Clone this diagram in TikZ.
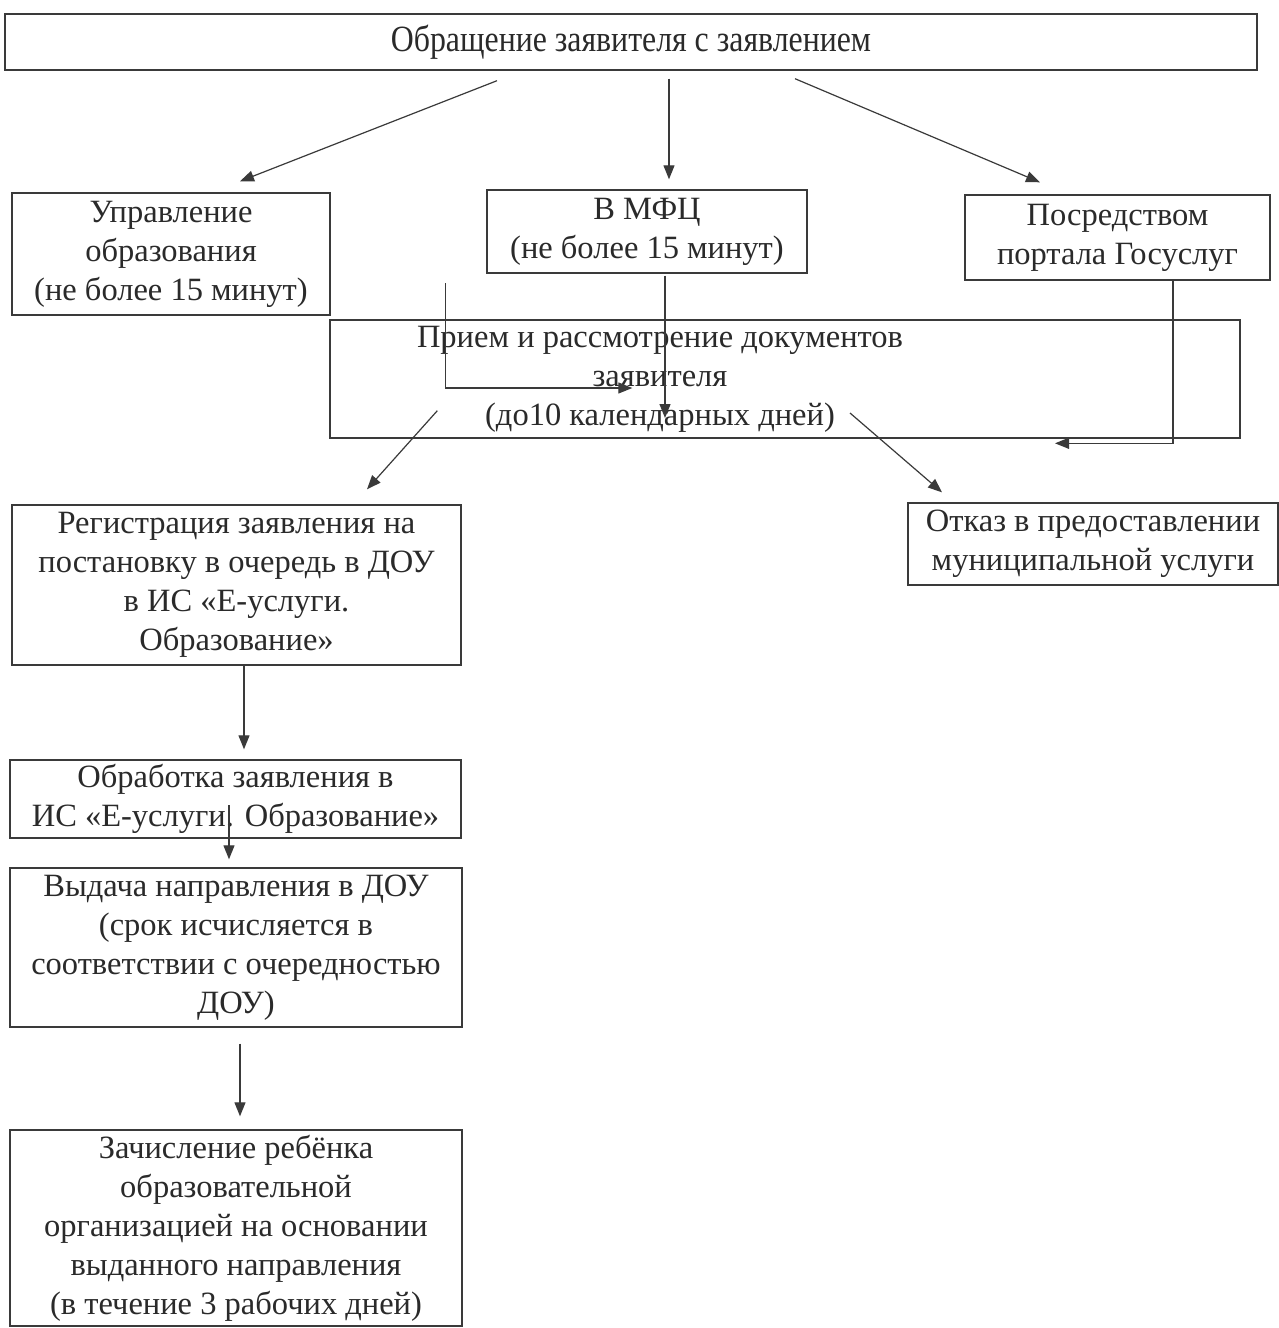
\documentclass[tikz,border=0pt]{standalone}
\usepackage{fontspec}
\setmainfont{Liberation Serif}
\newfontfamily\narrowserif[FakeStretch=0.86]{Liberation Serif}
\usetikzlibrary{arrows.meta,calc}
\definecolor{ink}{HTML}{3A3A3A}
\definecolor{txt}{HTML}{2A2A2A}
\begin{document}
\begin{tikzpicture}[x=1pt,y=-1pt,
  box/.style={draw=ink,line width=1.4pt,rectangle,inner sep=0pt,align=center,
    text=txt,font=\fontsize{32.5}{39}\selectfont},
  conn/.style={draw=ink,line width=1.2pt,-{Triangle[length=14pt,width=11pt]}}]
\useasboundingbox (0,0) rectangle (1279,1328);
\fill[white] (0,0) rectangle (1279,1328);

\node[box,minimum width=1252,minimum height=56,font=\narrowserif\fontsize{37}{40}\selectfont] (top) at (631,42) {Обращение заявителя с заявлением};
\node[box,minimum width=318,minimum height=122] (upr) at (171,254) {Управление\\образования\\(не более 15 минут)};
\node[box,minimum width=320,minimum height=83] (mfc) at (647,231.5) {В МФЦ\\(не более 15 минут)};
\node[box,minimum width=305,minimum height=85] (gos) at (1117.5,237.5) {Посредством\\портала Госуслуг};
\node[box,minimum width=910,minimum height=118] (priem) at (785,379) {\begin{tabular}{@{}c@{}}Прием и рассмотрение документов\\заявителя\\(до10 календарных дней)\end{tabular}\hspace{250pt}};
\node[box,minimum width=449,minimum height=160] (reg) at (236.5,585) {Регистрация заявления на\\постановку в очередь в ДОУ\\в ИС «Е-услуги.\\Образование»};
\node[box,minimum width=370,minimum height=82] (otkaz) at (1093,544) {Отказ в предоставлении\\муниципальной услуги};
\node[box,minimum width=451,minimum height=78] (obr) at (235.5,799) {Обработка заявления в\\ИС «Е-услуги. Образование»};
\node[box,minimum width=452,minimum height=159] (vyd) at (236,947.5) {Выдача направления в ДОУ\\(срок исчисляется в\\соответствии с очередностью\\ДОУ)};
\node[box,minimum width=452,minimum height=196] (zach) at (236,1228) {Зачисление ребёнка\\образовательной\\организацией на основании\\выданного направления\\(в течение 3 рабочих дней)};

\draw[conn] ($(top.south)+(-134,10)$) -- ($(upr.north)+(69,-11)$);
\draw[conn] ($(top.south)+(38,8)$) -- ($(mfc.north)+(22,-10)$);
\draw[conn] ($(top.south)+(164,8)$) -- ($(gos.north)+(-77.5,-12)$);
\draw[conn] ($(upr.east)+(115,29)$) |- ($(priem.west)+(303,9)$);
\draw[conn] ($(mfc.south)+(18,2)$) -- ($(priem.center)+(-120,39)$);
\draw[conn] ($(priem.south west)+(108,-28)$) -- ($(reg.north)+(130.5,-15)$);
\draw[conn] ($(priem.center)+(65,34)$) -- ($(otkaz.north)+(-151,-10)$);
\draw[conn] ($(gos.south)+(55.5,0)$) |- ($(otkaz.north)+(-38,-59)$);
\draw[conn] ($(reg.south)+(7.5,0)$) -- ($(obr.north)+(8.5,-10)$);
\draw[conn] ($(obr.center)+(-6.5,6)$) -- ($(vyd.north)+(-7,-8)$);
\draw[conn] ($(vyd.south)+(4,16)$) -- ($(zach.north)+(4,-13)$);
\end{tikzpicture}
\end{document}
